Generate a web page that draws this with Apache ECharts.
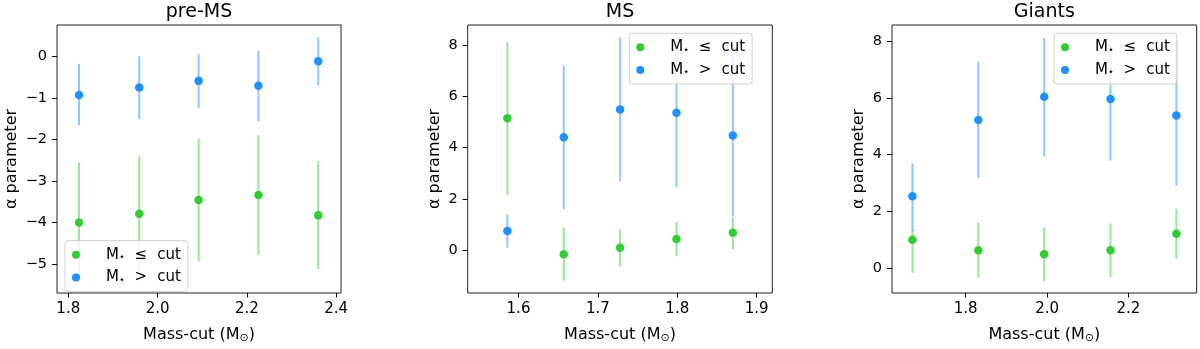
<!DOCTYPE html>
<html>
<head>
<meta charset="utf-8">
<script src="https://cdn.jsdelivr.net/npm/echarts@6/dist/echarts.min.js"></script>
<style>
html, body { margin: 0; padding: 0; background: #fff; }
#chart { width: 1200px; height: 349px; }
</style>
</head>
<body>
<div id="chart"></div>
<script>
// panel titles
var titles = ['pre-MS', 'MS', 'Giants'];
var lowName = 'M⋆ ≤ cut';
var highName = 'M⋆ > cut';

// pre-MS
var preX = [1.824, 1.959, 2.092, 2.226, 2.360];
var preLow = [-4.00, -3.79, -3.46, -3.34, -3.83];
var preLowLo = [-5.41, -5.16, -4.94, -4.79, -5.12];
var preLowHi = [-2.56, -2.39, -1.98, -1.90, -2.52];
var preHigh = [-0.93, -0.75, -0.59, -0.71, -0.12];
var preHighLo = [-1.66, -1.51, -1.25, -1.56, -0.70];
var preHighHi = [-0.18, 0.00, 0.05, 0.13, 0.46];

// MS
var msX = [1.586, 1.657, 1.728, 1.799, 1.870];
var msLow = [5.14, -0.16, 0.09, 0.44, 0.68];
var msLowLo = [2.15, -1.20, -0.63, -0.23, 0.04];
var msLowHi = [8.11, 0.89, 0.82, 1.10, 1.29];
var msHigh = [0.75, 4.40, 5.49, 5.36, 4.47];
var msHighLo = [0.10, 1.60, 2.68, 2.46, 1.33];
var msHighHi = [1.39, 7.20, 8.30, 8.26, 7.70];

// Giants
var giX = [1.669, 1.831, 1.993, 2.156, 2.318];
var giLow = [1.00, 0.63, 0.49, 0.63, 1.21];
var giLowLo = [-0.17, -0.34, -0.46, -0.32, 0.34];
var giLowHi = [1.37, 1.60, 1.43, 1.57, 2.09];
var giHigh = [2.53, 5.22, 6.04, 5.96, 5.38];
var giHighLo = [1.31, 3.18, 3.94, 3.79, 2.91];
var giHighHi = [3.69, 7.28, 8.11, 8.06, 8.00];

// tick labels
var preXTicks = [1.8, 2.0, 2.2, 2.4];
var preYTicks = [-5, -4, -3, -2, -1, 0];
var msXTicks = [1.6, 1.7, 1.8, 1.9];
var msYTicks = [0, 2, 4, 6, 8];
var giXTicks = [1.8, 2.0, 2.2];
var giYTicks = [0, 2, 4, 6, 8];

var green = '#32CD32';
var blue = '#1E90FF';
var font = 'DejaVu Sans';

var panels = [
  { x: preX, low: [preLow, preLowLo, preLowHi], high: [preHigh, preHighLo, preHighHi],
    xt: preXTicks, yt: preYTicks, xr: [1.7747, 2.411], yr: [-5.70, 0.756],
    grid: [57, 25, 341, 301], nameGap: 37, legend: [65, 240.7] },
  { x: msX, low: [msLow, msLowLo, msLowHi], high: [msHigh, msHighLo, msHighHi],
    xt: msXTicks, yt: msYTicks, xr: [1.536, 1.9197], yr: [-1.67, 8.78],
    grid: [467.7, 25, 772.3, 300.7], nameGap: 25, legend: [629.3, 33.3] },
  { x: giX, low: [giLow, giLowLo, giLowHi], high: [giHigh, giHighLo, giHighHi],
    xt: giXTicks, yt: giYTicks, xr: [1.6187, 2.368], yr: [-0.88, 8.57],
    grid: [892, 25, 1196.7, 300.7], nameGap: 25, legend: [1054, 33.3] }
];

function minus(v) { return String(v).replace('-', '\u2212'); }

function errRender(color) {
  return function (params, api) {
    var a = api.coord([api.value(0), api.value(1)]);
    var b = api.coord([api.value(0), api.value(2)]);
    return { type: 'line', shape: { x1: a[0], y1: a[1], x2: b[0], y2: b[1] },
      style: { stroke: color, lineWidth: 2 } };
  };
}

var legendRich = {
  p: { fontFamily: font, fontSize: 15, width: 10, lineHeight: 16 },
  m: { fontFamily: font, fontSize: 15, color: '#000', width: 12.5, lineHeight: 16 },
  s: { fontFamily: font, fontSize: 11, color: '#000', width: 16, lineHeight: 16, padding: [5, 0, 0, 0] },
  r: { fontFamily: font, fontSize: 15, color: '#000', width: 22.7, lineHeight: 16 },
  c: { fontFamily: font, fontSize: 15, color: '#000', lineHeight: 16 }
};

var option = { animation: false, graphic: [], grid: [], xAxis: [], yAxis: [], legend: [], series: [] };

panels.forEach(function (p, i) {
  var g = p.grid;
  option.graphic.push({ type: 'text', x: (g[0] + g[2]) / 2, y: 12,
    style: { text: titles[i], fontFamily: font, fontSize: 19, fill: '#000',
      textAlign: 'center', textVerticalAlign: 'middle' } });
  option.grid.push({ left: g[0], top: g[1], width: g[2] - g[0], height: g[3] - g[1],
    show: true, borderColor: '#222', borderWidth: 1, containLabel: false });
  option.xAxis.push({ type: 'value', gridIndex: i, min: p.xr[0], max: p.xr[1],
    name: 'Mass-cut (M{s|⊙})', nameLocation: 'middle', nameGap: 32,
    nameTextStyle: { fontFamily: font, fontSize: 16, color: '#000',
      rich: { s: { fontFamily: font, fontSize: 11, color: '#000', padding: [8, 0, 0, 0] } } },
    axisLine: { show: false, onZero: false }, splitLine: { show: false },
    axisTick: { length: 4.5, lineStyle: { color: '#000' }, customValues: p.xt },
    axisLabel: { fontFamily: font, fontSize: 15, color: '#000', margin: 9, customValues: p.xt,
      formatter: function (v) { return v.toFixed(1); } } });
  option.yAxis.push({ type: 'value', gridIndex: i, min: p.yr[0], max: p.yr[1],
    name: 'α parameter', nameLocation: 'middle', nameGap: p.nameGap,
    nameTextStyle: { fontFamily: font, fontSize: 16, color: '#000' },
    axisLine: { show: false, onZero: false }, splitLine: { show: false },
    axisTick: { length: 5, lineStyle: { color: '#000' }, customValues: p.yt },
    axisLabel: { fontFamily: font, fontSize: 14.5, color: '#000', margin: 10, customValues: p.yt,
      formatter: minus } });
  option.legend.push({ orient: 'vertical', left: p.legend[0], top: p.legend[1],
    data: [lowName, highName], icon: 'circle', itemWidth: 30, itemHeight: 8, itemGap: 6.7,
    padding: [6, 7, 6, 7], backgroundColor: 'rgba(255,255,255,0.8)',
    borderColor: '#d0d0d0', borderWidth: 1, borderRadius: 3,
    selectedMode: false,
    formatter: function (n) {
      return '{p| }{m|M}{s|⋆}{r|' + (n === lowName ? '≤' : '>') + '}{c|cut}';
    },
    textStyle: { fontFamily: font, fontSize: 15, color: '#000', lineHeight: 16, rich: legendRich } });

  var sets = [[p.low, green, 'rgba(50,205,50,0.5)', lowName],
              [p.high, blue, 'rgba(30,144,255,0.5)', highName]];
  sets.forEach(function (s) {
    var err = [], pts = [];
    for (var k = 0; k < p.x.length; k++) {
      err.push([p.x[k], s[0][1][k], s[0][2][k]]);
      pts.push([p.x[k], s[0][0][k]]);
    }
    option.series.push({ type: 'custom', xAxisIndex: i, yAxisIndex: i, data: err,
      encode: { x: 0, y: [1, 2] }, renderItem: errRender(s[2]), silent: true });
    option.series.push({ type: 'scatter', name: s[3], xAxisIndex: i, yAxisIndex: i, data: pts,
      symbolSize: 8.5, itemStyle: { color: s[1], opacity: 1 } });
  });
});

var chart = echarts.init(document.getElementById('chart'));
chart.setOption(option);
</script>
</body>
</html>
